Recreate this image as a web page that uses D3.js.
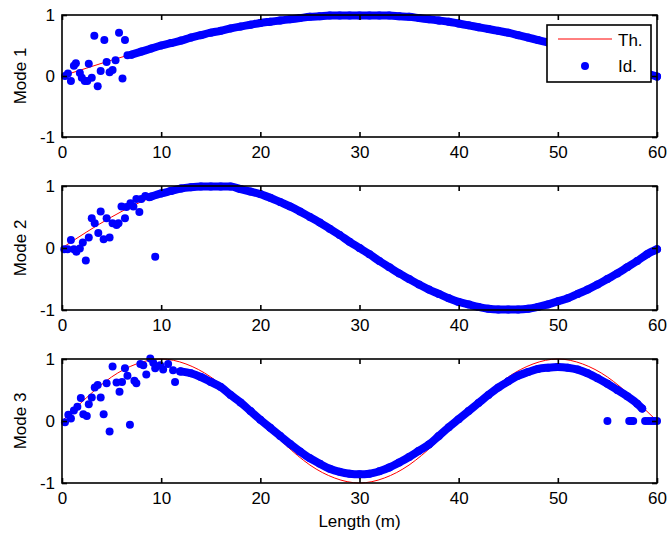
<!DOCTYPE html>
<html>
<head>
<meta charset="utf-8">
<script src="https://cdn.jsdelivr.net/npm/d3@7/dist/d3.min.js"></script>
<style>
  body { margin: 0; background: #fff; }
  text { font-family: "Liberation Sans", Arial, sans-serif; }
</style>
</head>
<body>
<script>
// tick labels
const lengthTicks = [0, 10, 20, 30, 40, 50, 60];
const modeTicks = [-1, 0, 1];

// theoretical mode shapes, read every 2.5 m
const thX = [0, 2.5, 5, 7.5, 10, 12.5, 15, 17.5, 20, 22.5, 25, 27.5, 30,
             32.5, 35, 37.5, 40, 42.5, 45, 47.5, 50, 52.5, 55, 57.5, 60];
const thMode1 = [0, 0.13, 0.26, 0.38, 0.50, 0.61, 0.71, 0.79, 0.87, 0.92, 0.97, 0.99, 1.0,
                 0.99, 0.97, 0.92, 0.87, 0.79, 0.71, 0.61, 0.50, 0.38, 0.26, 0.13, 0];
const thMode2 = [0, 0.26, 0.50, 0.71, 0.87, 0.97, 1.0, 0.97, 0.87, 0.71, 0.50, 0.26, 0,
                 -0.26, -0.50, -0.71, -0.87, -0.97, -1.0, -0.97, -0.87, -0.71, -0.50, -0.26, 0];
const thMode3 = [0, 0.38, 0.71, 0.92, 1.0, 0.92, 0.71, 0.38, 0, -0.38, -0.71, -0.92, -1.0,
                 -0.92, -0.71, -0.38, 0, 0.38, 0.71, 0.92, 1.0, 0.92, 0.71, 0.38, 0];

// identified, mode 1: scattered points near the support
const idScatX1 = [0.3, 0.6, 0.9, 1.2, 1.4, 1.8, 2.0, 2.3, 2.55, 2.7, 3.0, 3.26, 3.6, 3.9,
                  4.27, 4.5, 4.8, 5.1, 5.4, 5.75, 6.1, 6.35, 6.6];
const idScatY1 = [0.0, 0.04, -0.08, 0.17, 0.21, 0.05, -0.03, -0.08, -0.08, 0.2, -0.03, 0.66, -0.17, 0.08,
                  0.59, 0.23, 0.06, 0.1, 0.26, 0.71, -0.04, 0.59, 0.34];
// identified, mode 1: continuous band
const idBandX1 = [7, 8, 9, 10, 11, 12, 13, 14, 15, 16, 17, 18, 19, 20, 21, 22, 23, 24, 25, 26, 27,
                  28, 29, 30, 31, 32, 33, 34, 35, 36, 37, 38, 39, 40, 41, 42, 43, 44, 45, 46, 47,
                  48, 49, 50, 51, 52, 53, 54, 55, 56, 57, 58, 59, 60];
const idBandY1 = [0.35, 0.40, 0.45, 0.50, 0.54, 0.58, 0.63, 0.67, 0.71, 0.74, 0.78, 0.81, 0.84, 0.87,
                  0.89, 0.91, 0.93, 0.95, 0.97, 0.98, 0.99, 0.99, 0.99, 0.99, 0.99, 0.99, 0.99, 0.98,
                  0.97, 0.95, 0.93, 0.91, 0.89, 0.86, 0.83, 0.80, 0.77, 0.74, 0.71, 0.67, 0.63, 0.59,
                  0.55, 0.51, 0.46, 0.41, 0.36, 0.31, 0.26, 0.21, 0.15, 0.10, 0.04, -0.01];

// identified, mode 2
const idScatX2 = [0.23, 0.57, 0.9, 1.2, 1.45, 1.8, 2.1, 2.4, 2.7, 3.0, 3.3, 3.66, 3.9, 4.2, 4.5,
                  4.8, 5.1, 5.5, 5.7, 6.0, 6.35, 6.5, 6.9, 7.2, 7.5, 7.8, 8.0, 8.4, 8.8, 9.4];
const idScatY2 = [-0.02, -0.02, 0.13, -0.02, -0.06, -0.01, 0.09, -0.2, 0.17, 0.48, 0.4, 0.24, 0.59,
                  0.14, 0.48, 0.17, 0.4, 0.37, 0.4, 0.67, 0.48, 0.66, 0.72, 0.67, 0.79, 0.58, 0.79,
                  0.84, 0.82, -0.14];
const idBandX2 = [9, 10, 11, 12, 13, 14, 15, 16, 17, 18, 19, 20, 21, 22, 23, 24, 25, 26, 27, 28, 29,
                  30, 31, 32, 33, 34, 35, 36, 37, 38, 39, 40, 41, 42, 43, 44, 45, 46, 47, 48, 49,
                  50, 51, 52, 53, 54, 55, 56, 57, 58, 59, 60];
const idBandY2 = [0.83, 0.88, 0.92, 0.96, 0.98, 0.99, 0.99, 0.99, 0.99, 0.95, 0.91, 0.87, 0.81, 0.74,
                  0.67, 0.59, 0.50, 0.41, 0.31, 0.21, 0.10, 0.0, -0.10, -0.21, -0.31, -0.41, -0.50,
                  -0.59, -0.67, -0.74, -0.81, -0.87, -0.91, -0.95, -0.98, -0.99, -0.99, -0.99, -0.98,
                  -0.95, -0.91, -0.86, -0.81, -0.74, -0.67, -0.59, -0.50, -0.41, -0.31, -0.21, -0.10,
                  -0.02];

// identified, mode 3
const idScatX3 = [0.3, 0.64, 0.9, 1.2, 1.55, 1.9, 2.15, 2.5, 2.7, 3.0, 3.3, 3.6, 3.9, 4.2, 4.5, 4.8,
                  5.1, 5.5, 5.8, 6.05, 6.35, 6.6, 6.85, 7.3, 7.5, 7.9, 8.2, 8.5, 8.9, 9.2, 9.4, 9.9,
                  10.2, 10.7, 11.2, 11.4, 11.9];
const idScatY3 = [-0.02, 0.1, 0.04, 0.17, 0.23, 0.37, 0.11, 0.08, 0.27, 0.38, 0.54, 0.58, 0.38, 0.11,
                  0.61, -0.17, 0.88, 0.62, 0.47, 0.63, 0.85, 0.73, -0.06, 0.65, 0.61, 0.92, 0.9, 0.75,
                  1.01, 0.94, 0.85, 0.9, 0.83, 0.92, 0.82, 0.63, 0.8];
const idBandX3 = [12, 13, 14, 15, 16, 17, 18, 19, 20, 21, 22, 23, 24, 25, 26, 27, 28, 29, 30, 31, 32,
                  33, 34, 35, 36, 37, 38, 39, 40, 41, 42, 43, 44, 45, 46, 47, 48, 49, 50, 51, 52,
                  53, 54, 55, 56, 57, 58, 58.5];
const idBandY3 = [0.80, 0.77, 0.71, 0.63, 0.55, 0.42, 0.30, 0.16, 0.02, -0.11, -0.24, -0.37, -0.49,
                  -0.60, -0.69, -0.77, -0.82, -0.85, -0.86, -0.85, -0.81, -0.75, -0.67, -0.58, -0.48,
                  -0.38, -0.24, -0.10, 0.03, 0.16, 0.29, 0.42, 0.54, 0.64, 0.73, 0.79, 0.84, 0.86,
                  0.87, 0.86, 0.83, 0.77, 0.69, 0.60, 0.50, 0.40, 0.28, 0.20];
const idTailX3 = [55.0, 57.2, 57.4, 57.6, 58.8, 59.1, 59.4, 59.7, 60.0];
const idTailY3 = [0, 0, 0, 0, 0, 0, 0, 0, 0];

const W = 668, H = 534;
const left = 62, right = 657;
const fontSize = "17px";
const panels = [
  { label: "Mode 1", top: 15, bottom: 137, th: thMode1,
    scat: [idScatX1, idScatY1], band: [idBandX1, idBandY1] },
  { label: "Mode 2", top: 186, bottom: 310, th: thMode2,
    scat: [idScatX2, idScatY2], band: [idBandX2, idBandY2] },
  { label: "Mode 3", top: 359, bottom: 483, th: thMode3,
    scat: [idScatX3.concat(idTailX3), idScatY3.concat(idTailY3)], band: [idBandX3, idBandY3] }
];

const blue = "#0000ff", red = "#ff0000";
const svg = d3.select("body").append("svg").attr("width", W).attr("height", H);

const x = d3.scaleLinear().domain([0, 60]).range([left, right]);
const zip = (xs, ys) => xs.map((v, i) => [v, ys[i]]);

panels.forEach(p => {
  const y = d3.scaleLinear().domain([-1, 1]).range([p.bottom, p.top]);
  const g = svg.append("g");

  // theoretical (red) first
  g.append("path")
    .datum(zip(thX, p.th))
    .attr("fill", "none").attr("stroke", red).attr("stroke-width", 1)
    .attr("d", d3.line().x(d => x(d[0])).y(d => y(d[1])).curve(d3.curveNatural));

  // identified band
  const band = zip(p.band[0], p.band[1]);
  g.append("path")
    .datum(band)
    .attr("fill", "none").attr("stroke", blue).attr("stroke-width", 8)
    .attr("stroke-linecap", "round")
    .attr("d", d3.line().x(d => x(d[0])).y(d => y(d[1])).curve(d3.curveMonotoneX));

  g.selectAll(".pt")
    .data(band.concat(zip(p.scat[0], p.scat[1])))
    .join("circle")
    .attr("cx", d => x(d[0])).attr("cy", d => y(d[1]))
    .attr("r", 4).attr("fill", blue);

  // axes, ticks inward on all four sides
  const xb = g.append("g").attr("transform", `translate(0,${p.bottom})`)
    .call(d3.axisBottom(x).tickValues(lengthTicks).tickSizeInner(-5).tickSizeOuter(0).tickPadding(9));
  const xt = g.append("g").attr("transform", `translate(0,${p.top})`)
    .call(d3.axisTop(x).tickValues(lengthTicks).tickSizeInner(-5).tickSizeOuter(0).tickFormat(""));
  const yl = g.append("g").attr("transform", `translate(${left},0)`)
    .call(d3.axisLeft(y).tickValues(modeTicks).tickSizeInner(-5).tickSizeOuter(0).tickPadding(7)
      .tickFormat(d3.format("d")));
  const yr = g.append("g").attr("transform", `translate(${right},0)`)
    .call(d3.axisRight(y).tickValues(modeTicks).tickSizeInner(-5).tickSizeOuter(0).tickFormat(""));

  [xb, xt, yl, yr].forEach(a => {
    a.select(".domain").remove();
    a.selectAll("line").attr("stroke", "#000").attr("stroke-width", 1.6);
    a.selectAll("text").attr("fill", "#000").style("font-size", fontSize)
      .style("font-family", "'Liberation Sans', Arial, sans-serif");
  });
  yl.selectAll("text").text(d => d < 0 ? "-1" : d);

  g.append("rect")
    .attr("x", left).attr("y", p.top)
    .attr("width", right - left).attr("height", p.bottom - p.top)
    .attr("fill", "none").attr("stroke", "#000").attr("stroke-width", 1.6);

  g.append("text")
    .attr("transform", `translate(26,${(p.top + p.bottom) / 2}) rotate(-90)`)
    .attr("text-anchor", "middle")
    .style("font-size", fontSize)
    .text(p.label);
});

// x label
svg.append("text")
  .attr("x", (left + right) / 2).attr("y", 527)
  .attr("text-anchor", "middle")
  .style("font-size", fontSize)
  .text("Length (m)");

// legend
const lg = svg.append("g");
lg.append("rect").attr("x", 547).attr("y", 25).attr("width", 104).attr("height", 57)
  .attr("fill", "#fff").attr("stroke", "#000").attr("stroke-width", 1.6);
lg.append("line").attr("x1", 558).attr("x2", 612).attr("y1", 39).attr("y2", 39)
  .attr("stroke", red).attr("stroke-width", 1);
lg.append("circle").attr("cx", 585).attr("cy", 66).attr("r", 4).attr("fill", blue);
lg.append("text").attr("x", 618).attr("y", 46).style("font-size", fontSize).text("Th.");
lg.append("text").attr("x", 618).attr("y", 72).style("font-size", fontSize).text("Id.");
</script>
</body>
</html>
